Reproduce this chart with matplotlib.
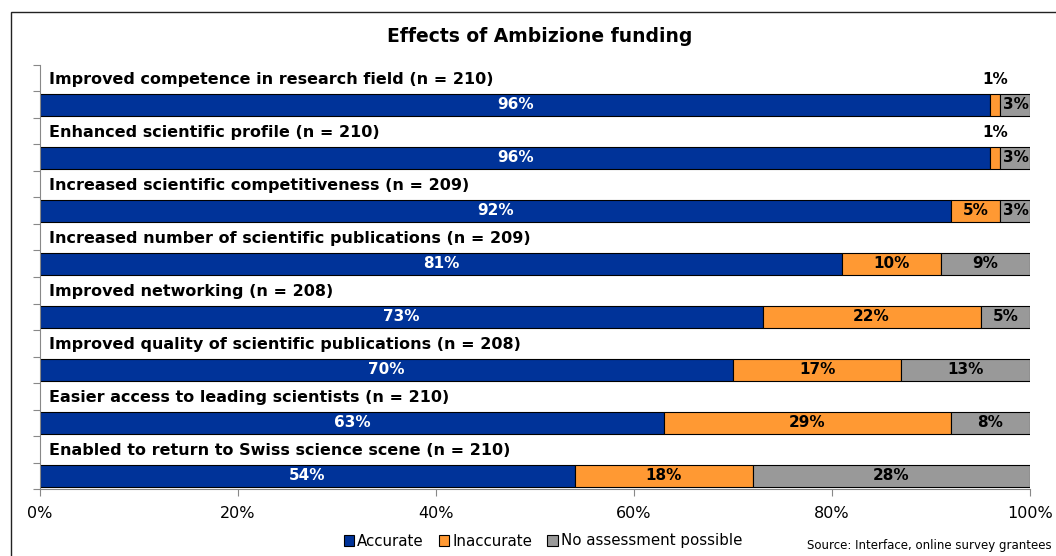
"""Effects of Ambizione funding - stacked horizontal bars."""

import matplotlib.pyplot as plt
from matplotlib.patches import Patch, Rectangle

categories = [
    "Improved competence in research field (n = 210)",
    "Enhanced scientific profile (n = 210)",
    "Increased scientific competitiveness (n = 209)",
    "Increased number of scientific publications (n = 209)",
    "Improved networking (n = 208)",
    "Improved quality of scientific publications (n = 208)",
    "Easier access to leading scientists (n = 210)",
    "Enabled to return to Swiss science scene (n = 210)",
]
accurate = [96, 96, 92, 81, 73, 70, 63, 54]
inaccurate = [1, 1, 5, 10, 22, 17, 29, 18]
no_assessment = [3, 3, 3, 9, 5, 13, 8, 28]

series_names = ["Accurate", "Inaccurate", "No assessment possible"]
colors = ["#003399", "#FF9933", "#999999"]
text_colors = ["white", "black", "black"]

W, H = 1056, 556
fig = plt.figure(figsize=(W / 100, H / 100), dpi=100)
fig.patch.set_facecolor("white")

# outer chart border (runs off the right and bottom edge)
fig.patches.append(Rectangle((11 / W, -0.1), 1.2, 1.1 - 12 / H, transform=fig.transFigure,
                             fill=False, edgecolor="#222222", linewidth=1.0))

ax = fig.add_axes([40 / W, 1 - 489 / H, 990 / W, (489 - 65) / H])

n_rows = 2 * len(categories)
bar_h = 0.84

for i, name in enumerate(categories):
    label_row = 2 * i
    bar_row = 2 * i + 1
    y = bar_row + 0.5
    ax.text(0.9, label_row + 0.55, name, ha="left", va="center",
            fontsize=11.5, fontweight="bold", color="black")

    left = 0
    for vals, color, tcol in zip([accurate, inaccurate, no_assessment], colors, text_colors):
        v = vals[i]
        ax.barh(y, v, left=left, height=bar_h, color=color, edgecolor="black", linewidth=0.8)
        if v <= 1:
            ax.text(left + v / 2, label_row + 0.55, f"{v}%", ha="center", va="center",
                    fontsize=11, fontweight="bold", color="black")
        elif v <= 3:
            ax.text(left + v / 2 + 0.1, y, f"{v}%", ha="center", va="center",
                    fontsize=11, fontweight="bold", color=tcol)
        else:
            ax.text(left + v / 2, y, f"{v}%", ha="center", va="center",
                    fontsize=11, fontweight="bold", color=tcol)
        left += v

ax.set_xlim(0, 100)
ax.set_ylim(n_rows, 0)
ax.set_xticks(range(0, 101, 20))
ax.set_xticklabels([f"{t}%" for t in range(0, 101, 20)], fontsize=11.5)
ax.set_yticks(range(0, n_rows + 1))
ax.set_yticklabels([])
ax.tick_params(axis="y", length=5, color="#888888", width=0.8)
ax.tick_params(axis="x", length=5, color="#888888", width=0.8, pad=7)

for side in ["top", "right"]:
    ax.spines[side].set_visible(False)
for side in ["left", "bottom"]:
    ax.spines[side].set_color("#888888")
    ax.spines[side].set_linewidth(0.8)

fig.text(540 / W, 1 - 37 / H, "Effects of Ambizione funding", ha="center", va="center",
         fontsize=13.5, fontweight="bold")

handles = [Patch(facecolor=c, edgecolor="black", linewidth=0.8, label=n)
           for c, n in zip(colors, series_names)]
fig.legend(handles=handles, loc="center", bbox_to_anchor=(543 / W, 1 - 541 / H), ncol=3,
           frameon=False, fontsize=10.8, handlelength=0.7, handleheight=0.7,
           handletextpad=0.2, columnspacing=1.0, borderaxespad=0)

fig.text(1052 / W, 1 - 545 / H, "Source: Interface, online survey grantees", ha="right",
         va="center", fontsize=8.5)

fig.savefig("out.png", dpi=100)
